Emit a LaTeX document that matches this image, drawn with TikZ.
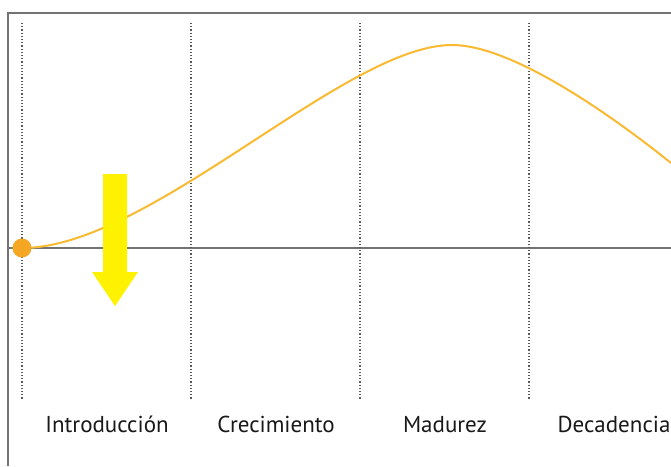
\documentclass[tikz,border=0pt]{standalone}
\usepackage{fontspec}
\setmainfont{PT Sans}
\begin{document}
\begin{tikzpicture}[x=1pt,y=-1pt,
  frame/.style={draw=black!55,line width=2.5pt},
  axisline/.style={draw=black!55,line width=2pt},
  sep/.style={draw=black!65,line width=1.4pt,dash pattern=on 1.2pt off 2pt},
  curve/.style={draw={rgb,255:red,249;green,186;blue,50},line width=2pt},
  stage/.style={font=\fontsize{23}{26}\selectfont,text=black!90,anchor=base}]
\useasboundingbox (0,0) rectangle (671,466);
\fill[white] (0,0) rectangle (671,466);
\draw[frame] (8,466) -- (8,13) -- (672,13);
\draw[axisline] (8,248) -- (672,248);
\foreach \x in {22,191,360,529} \draw[sep] (\x,23) -- (\x,400);
\coordinate (s) at (22,248);
\coordinate (p) at (452,45);
\coordinate (e) at (671,163);
\draw[curve] (s) .. controls (150,248) and (345,45) .. (p)
  .. controls (515,45) and (620,122) .. (e);
\fill[fill={rgb,255:red,245;green,166;blue,35}] (s) circle (9.5);
\fill[yellow] (103,174) -- (127,174) -- (127,272) -- (138,272) -- (115,306) -- (92,272) -- (103,272) -- cycle;
\node[stage] (n1) at (107,432) {Introducción};
\node[stage] (n2) at (276,432) {Crecimiento};
\node[stage] (n3) at (445,432) {Madurez};
\node[stage] (n4) at (614,432) {Decadencia};
\end{tikzpicture}
\end{document}
